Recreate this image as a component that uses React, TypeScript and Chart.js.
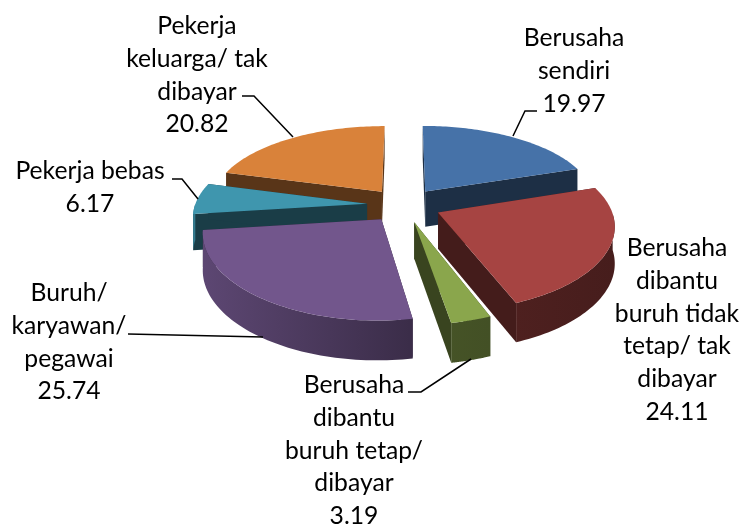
import React, { useEffect, useRef } from "react";
import { Chart, registerables } from "chart.js";

Chart.register(...registerables);

const categories = [
  "Berusaha sendiri",
  "Berusaha dibantu buruh tidak tetap/ tak dibayar",
  "Berusaha dibantu buruh tetap/ dibayar",
  "Buruh/ karyawan/ pegawai",
  "Pekerja bebas",
  "Pekerja keluarga/ tak dibayar",
];
const values = [19.97, 24.11, 3.19, 25.74, 6.17, 20.82];
const colors = ["#4672a8", "#a64442", "#8aa64c", "#72568c", "#3f96ae", "#d9823a"];

const labelLines = [
  ["Berusaha", "sendiri", "19.97"],
  ["Berusaha", "dibantu", "buruh tidak", "tetap/ tak", "dibayar", "24.11"],
  ["Berusaha", "dibantu", "buruh tetap/", "dibayar", "3.19"],
  ["Buruh/", "karyawan/", "pegawai", "25.74"],
  ["Pekerja bebas", "6.17"],
  ["Pekerja", "keluarga/ tak", "dibayar", "20.82"],
];
const labelAnchors = [
  [574, 38],
  [677, 248],
  [354, 385],
  [69, 293],
  [90, 171],
  [197, 26],
];
const leaders: number[][][] = [
  [[513, 136], [525, 111], [537, 111]],
  [],
  [[471, 359], [421, 392], [408, 392]],
  [[263, 337], [128, 334]],
  [[198, 199], [182, 179], [172, 179]],
  [[293, 137], [254, 96], [242, 96]],
];

const CX = 404;
const CY = 205;
const RX = 172;
const RY = 80;
const PERSP_X = 0.14;
const PERSP_Y = 0.16;
const DEPTH = 36;
const LINE_H = 32.8;

function project(u: number, v: number, down: boolean) {
  return {
    x: CX + (RX * u) / (1 + PERSP_X * v),
    y: CY - (RY * v) / (1 + PERSP_Y * v) + (down ? DEPTH * (1 - 0.09 * v) : 0),
  };
}

function shade(hex: string, f: number) {
  const n = parseInt(hex.slice(1), 16);
  const r = Math.round(((n >> 16) & 255) * f);
  const g = Math.round(((n >> 8) & 255) * f);
  const b = Math.round((n & 255) * f);
  return `rgb(${r},${g},${b})`;
}

const pie3d = {
  id: "pie3d",
  beforeDatasetDraw(chart: any) {
    const ctx = chart.ctx as CanvasRenderingContext2D;
    const arcs = chart.getDatasetMeta(0).data as any[];
    const order = arcs
      .map((arc, i) => ({ arc, i, mid: (arc.startAngle + arc.endAngle) / 2 }))
      .sort((a, b) => Math.sin(a.mid) - Math.sin(b.mid));
    for (const { arc, i, mid } of order) {
      const color = colors[i];
      const off = arc.options.offset / arc.outerRadius;
      const ox = Math.cos(mid) * off;
      const oy = -Math.sin(mid) * off;
      const steps = 64;
      const rim: [number, number][] = [];
      const front: [number, number][] = [];
      for (let k = 0; k <= steps; k++) {
        const a = arc.startAngle + ((arc.endAngle - arc.startAngle) * k) / steps;
        const p: [number, number] = [ox + Math.cos(a), oy - Math.sin(a)];
        rim.push(p);
        if (Math.sin(a) >= 0) front.push(p);
      }
      const poly = (pts: { x: number; y: number }[], fill: any) => {
        ctx.beginPath();
        pts.forEach((p, idx) => (idx ? ctx.lineTo(p.x, p.y) : ctx.moveTo(p.x, p.y)));
        ctx.closePath();
        ctx.fillStyle = fill;
        ctx.fill();
      };
      const dark = shade(color, 0.41);
      const first = rim[0];
      const last = rim[rim.length - 1];
      poly(
        [project(ox, oy, false), project(first[0], first[1], false), project(first[0], first[1], true), project(ox, oy, true)],
        dark
      );
      poly(
        [project(ox, oy, false), project(last[0], last[1], false), project(last[0], last[1], true), project(ox, oy, true)],
        dark
      );
      if (front.length > 1) {
        const grad = ctx.createLinearGradient(200, 0, 620, 0);
        grad.addColorStop(0, shade(color, 0.82));
        grad.addColorStop(0.5, shade(color, 0.52));
        grad.addColorStop(1, shade(color, 0.42));
        poly(
          [
            ...front.map((p) => project(p[0], p[1], false)),
            ...front.slice().reverse().map((p) => project(p[0], p[1], true)),
          ],
          grad
        );
      }
      poly([project(ox, oy, false), ...rim.map((p) => project(p[0], p[1], false))], color);
    }
    return false;
  },
  afterDatasetsDraw(chart: any) {
    const ctx = chart.ctx as CanvasRenderingContext2D;
    ctx.save();
    ctx.strokeStyle = "#000";
    ctx.lineWidth = 1.5;
    for (const pts of leaders) {
      if (!pts.length) continue;
      ctx.beginPath();
      pts.forEach((p, i) => (i ? ctx.lineTo(p[0], p[1]) : ctx.moveTo(p[0], p[1])));
      ctx.stroke();
    }
    ctx.fillStyle = "#000";
    ctx.font = "24.7px Lato";
    ctx.textAlign = "center";
    ctx.textBaseline = "middle";
    labelLines.forEach((lines, i) => {
      lines.forEach((t, k) => ctx.fillText(t, labelAnchors[i][0], labelAnchors[i][1] + k * LINE_H));
    });
    ctx.restore();
  },
};

export default function App() {
  const ref = useRef<HTMLCanvasElement>(null);
  useEffect(() => {
    const chart = new Chart(ref.current as HTMLCanvasElement, {
      type: "pie",
      data: {
        labels: categories,
        datasets: [{ data: values, backgroundColor: colors, offset: 51, borderWidth: 0 }],
      },
      options: {
        animation: false,
        responsive: false,
        plugins: { legend: { display: false }, tooltip: { enabled: false } },
      },
      plugins: [pie3d],
    } as any);
    return () => chart.destroy();
  }, []);
  return (
    <canvas
      ref={ref}
      width={742}
      height={524}
      style={{ position: "fixed", left: 0, top: 0, width: 742, height: 524, background: "#fff" }}
    />
  );
}
